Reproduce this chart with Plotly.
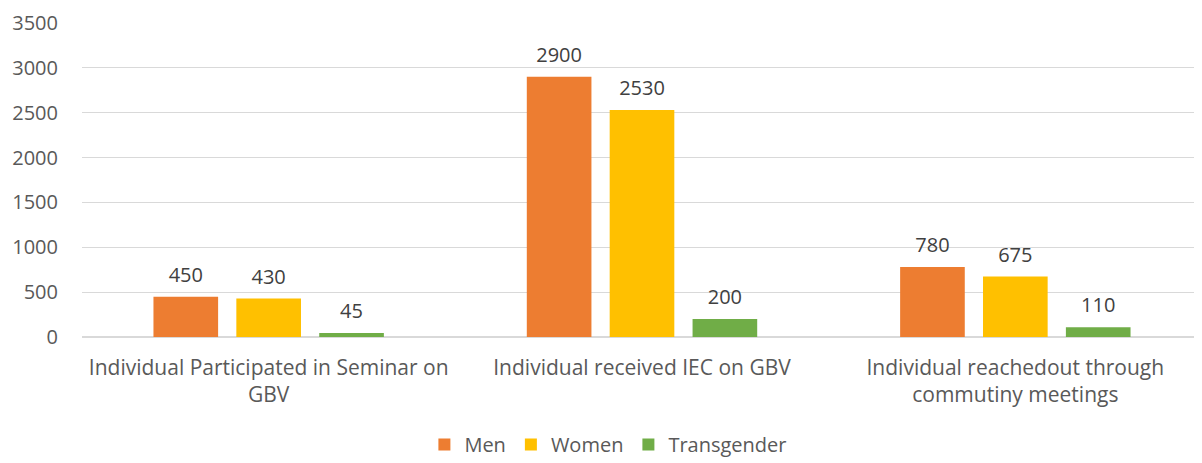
import plotly.graph_objects as go

categories = ["Individual Participated in Seminar on<br>GBV",
              "Individual received IEC on GBV",
              "Individual reachedout through<br>commutiny meetings"]
men = [450, 2900, 780]
women = [430, 2530, 675]
transgender = [45, 200, 110]
y_ticks = [0, 500, 1000, 1500, 2000, 2500, 3000, 3500]

FONT = "Open Sans"
TXT = "#595959"
fs = 20

fig = go.Figure()
series = [("Men", men, "#ED7D31"), ("Women", women, "#FFC000"),
          ("Transgender", transgender, "#70AD47")]
for i, (name, vals, col) in enumerate(series):
    fig.add_trace(go.Bar(
        name=name, x=categories, y=vals, marker_color=col, marker_line_width=0,
        offsetgroup=str(i), alignmentgroup="a",
    ))
for i, (name, vals, col) in enumerate(series):
    fig.add_trace(go.Scatter(
        x=categories, y=vals, mode="markers+text", text=[str(v) for v in vals],
        textposition="top center", marker=dict(size=14, opacity=0),
        textfont=dict(family=FONT, size=fs, color="#404040"),
        offsetgroup=str(i), alignmentgroup="a",
        showlegend=False, hoverinfo="skip", cliponaxis=False,
    ))

# page body has an 8px margin; size figure so it ends at the window edge
fig.update_layout(
    width=1194, height=455,
    margin=dict(l=74, r=0, t=15, b=126, autoexpand=False),
    paper_bgcolor="white", plot_bgcolor="white",
    barmode="group", scattermode="group", bargap=0.334, bargroupgap=0.22,
    font=dict(family=FONT, size=fs, color=TXT),
    showlegend=True,
    legend=dict(orientation="h", x=0.47, xanchor="center", yref="paper",
                y=-0.28, yanchor="top",
                font=dict(family=FONT, size=fs, color=TXT), itemwidth=30,
                traceorder="normal"),
    yaxis=dict(range=[0, 3500], tickvals=y_ticks, showgrid=True, gridcolor="#D9D9D9",
               gridwidth=1, zeroline=True, zerolinecolor="#D9D9D9", showline=False,
               ticks="", ticklabelstandoff=23, tickfont=dict(size=fs, color=TXT),
               automargin=False),
    xaxis=dict(showline=False, ticks="", tickfont=dict(size=21, color=TXT), tickangle=0,
               ticklabelstandoff=16, automargin=False),
)
fig.write_html("out.html")
